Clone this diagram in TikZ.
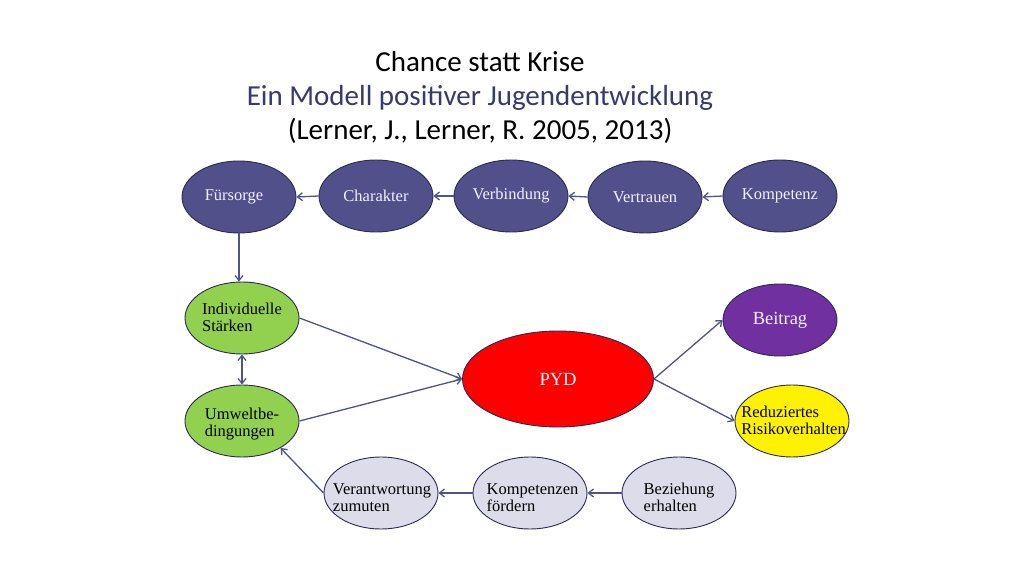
\documentclass[tikz,border=0pt]{standalone}
\usepackage{fontspec}
\setmainfont{Liberation Serif}
\newfontfamily\titlefont{Carlito}
\newfontfamily\nodefont{Liberation Serif}
\usetikzlibrary{shapes.geometric,arrows.meta}
\definecolor{navyfill}{HTML}{52508A}
\definecolor{edgedark}{HTML}{2B2A50}
\definecolor{arrowcol}{HTML}{50528A}
\definecolor{titleblue}{HTML}{383A6C}
\definecolor{greenfill}{HTML}{92D050}
\definecolor{purplefill}{HTML}{7030A0}
\definecolor{lightfill}{HTML}{DCDCEA}
\definecolor{topText}{HTML}{F2F0FF}
\newcommand{\ztext}[2][0bp]{\makebox[0pt]{\raisebox{\dimexpr#1-6pt\relax}[0pt][0pt]{\begin{tabular}{@{}l@{}}#2\end{tabular}}}}
\tikzset{
  oval/.style={ellipse, draw=edgedark, line width=0.9bp, inner sep=0pt,
    minimum width=114bp, minimum height=72bp,
    font=\nodefont\fontsize{16.5bp}{17.5bp}\selectfont},
  topoval/.style={oval, fill=navyfill, text=topText},
  greenoval/.style={oval, fill=greenfill, text=black},
  lightoval/.style={oval, fill=lightfill, text=black},
  arr/.style={draw=arrowcol, line width=1.3bp, -{Straight Barb[length=5bp,width=8bp]}},
  darr/.style={draw=arrowcol, line width=1.3bp, {Straight Barb[length=5bp,width=8bp]}-{Straight Barb[length=5bp,width=8bp]}},
  titletext/.style={font=\titlefont\fontsize{29bp}{34bp}\selectfont, align=center}
}
\begin{document}
\begin{tikzpicture}[x=1bp,y=-1bp]
\useasboundingbox[fill=white] (0,0) rectangle (1024,576);
% title
\node[titletext] (title) at (480,97) {Chance statt Krise\\[0pt]{\color{titleblue}Ein Modell positiver Jugendentwicklung}\\(Lerner, J., Lerner, R. 2005, 2013)};
% top row
\node[topoval] (fu) at (239,197) {\hspace*{-10bp}Fürsorge};
\node[topoval] (ch) at (376,196) {Charakter};
\node[topoval] (vb) at (511,196) {\raisebox{2bp}{Verbindung}};
\node[topoval] (vt) at (645,197) {Vertrauen};
\node[topoval] (ko) at (780,196) {Kompetenz};
% left column
\node[greenoval] (ind) at (242,318) {\ztext{Individuelle\\Stärken}};
\node[greenoval] (um) at (242,421) {\ztext[-2bp]{Umweltbe-\\dingungen}};
% centre
\node[ellipse, draw=edgedark, line width=0.9bp, fill=red, text=white, inner sep=0pt,
  minimum width=191bp, minimum height=96bp,
  font=\nodefont\fontsize{18.5bp}{20bp}\selectfont] (pyd) at (558,379) {PYD};
% right
\node[oval, fill=purplefill, text=topText, font=\nodefont\fontsize{18.5bp}{20bp}\selectfont] (bei) at (780,320) {Beitrag};
\node[oval, fill=yellow, text=black] (red) at (792,421) {\hspace*{3bp}\ztext{Reduziertes\\Risikoverhalten}};
% bottom row
\node[lightoval] (ver) at (381,493) {\hspace*{2bp}\ztext[-5bp]{Verantwortung\\zumuten}};
\node[lightoval] (kf) at (530,493) {\hspace*{5bp}\ztext[-5bp]{Kompetenzen\\fördern}};
\node[lightoval] (bz) at (679,493) {\ztext[-5bp]{Beziehung\\erhalten}};
% connectors
\draw[arr] (ch.west) -- (fu.east);
\draw[arr] (vb.west) -- (ch.east);
\draw[arr] (vt.west) -- (vb.east);
\draw[arr] (ko.west) -- (vt.east);
\draw[arr] (fu.south) -- (fu.south |- ind.north);
\draw[darr] (ind.south) -- (um.north);
\draw[arr] (ind.east) -- (pyd.west);
\draw[arr] (um.east) -- (pyd.west);
\draw[arr] (pyd.east) -- (bei.west);
\draw[arr] (pyd.east) -- (red.west);
\draw[arr] (ver.west) -- (um.-35);
\draw[arr] (kf.west) -- (ver.east);
\draw[arr] (bz.west) -- (kf.east);
\end{tikzpicture}
\end{document}
